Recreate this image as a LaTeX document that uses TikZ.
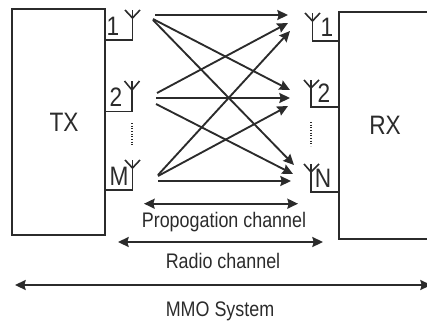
\documentclass[tikz,border=0pt]{standalone}
\usepackage{fontspec}
\setmainfont[FakeStretch=0.85]{Liberation Sans}
\usetikzlibrary{arrows.meta}
\definecolor{ink}{HTML}{2B2B2B}
\tikzstyle{unit} = [rectangle, draw=ink, line width=1.2pt, inner sep=0pt]
\tikzstyle{port} = [text=ink, font=\fontsize{20}{24}\selectfont, inner sep=0pt]
\tikzstyle{caption} = [text=ink, font=\fontsize{15.8}{18}\selectfont, inner sep=0pt]
\tikzstyle{feed} = [draw=ink, line width=1.2pt]
\tikzstyle{dots} = [draw=ink, line width=1.2pt, dash pattern=on 0.8pt off 1.2pt]
\tikzstyle{arrow} = [draw=ink, line width=1.4pt, -{Stealth[length=8pt,width=7.5pt,inset=1pt]}]
\tikzstyle{span} = [draw=ink, line width=1.4pt, {Stealth[length=8pt,width=7.5pt,inset=1pt]}-{Stealth[length=8pt,width=7.5pt,inset=1pt]}]

\begin{document}
\begin{tikzpicture}[x=0.75pt,y=-0.75pt]
\useasboundingbox (0,0) rectangle (427,325);
\node (tx) [unit, minimum width=70pt, minimum height=169.5pt] at (58.5,122) {};
\node (rx) [unit, minimum width=70.5pt, minimum height=170.25pt, anchor=north west] at (338,11) {};
\node (txlabel) [port] at (64,122.5) {TX};
\node (rxlabel) [port] at (385,125) {RX};

% transmit antennas
\coordinate (ta1) at (132.5,10);
\coordinate (ta2) at (132,81);
\coordinate (ta3) at (132.5,160);
\coordinate (tf1) at (105,40);
\coordinate (tf2) at (105,111.5);
\coordinate (tf3) at (105,190);
\draw [feed] (tf1) -| (ta1);
\draw [feed] (tf2) -| (ta2);
\draw [feed] (tf3) -| (ta3);
\draw [feed] (125,10) -- (132.5,18) -- (140,10);
\draw [feed] (124.5,81) -- (132,90) -- (139.5,81);
\draw [feed] (125,160) -- (132.5,168) -- (140,160);
\node (t1) [port] at (113,26) {1};
\node (t2) [port] at (116,97) {2};
\node (tm) [port] at (119,176) {M};

% receive antennas
\coordinate (ra1) at (312.5,13);
\coordinate (ra2) at (311,80);
\coordinate (ra3) at (311,164);
\coordinate (rf1) at (338,41);
\coordinate (rf2) at (338,107);
\coordinate (rf3) at (338,192);
\draw [feed] (rf1) -| (ra1);
\draw [feed] (rf2) -| (ra2);
\draw [feed] (rf3) -| (ra3);
\draw [feed] (305,13) -- (312.5,21) -- (320,13);
\draw [feed] (304,80) -- (311,88) -- (319,80);
\draw [feed] (304,164) -- (311,172) -- (319,164);
\node (r1) [port] at (327,27) {1};
\node (r2) [port] at (324,93) {2};
\node (rn) [port] at (323,178) {N};

\coordinate (td1) at (132,123);
\coordinate (td2) at (132,146);
\coordinate (rd1) at (311,122);
\coordinate (rd2) at (311,146);
\draw [dots] (td1) -- (td2);
\draw [dots] (rd1) -- (rd2);

% channel paths
\coordinate (s11) at (155,15);
\coordinate (s12) at (153,19);
\coordinate (s13) at (153,20);
\coordinate (s21) at (157,93);
\coordinate (s22) at (156,98);
\coordinate (s23) at (156,104);
\coordinate (s31) at (158,175);
\coordinate (s32) at (158,176);
\coordinate (s33) at (158,181);
\coordinate (e11) at (288,15);
\coordinate (e21) at (288,23);
\coordinate (e31) at (290,31);
\coordinate (e12) at (290,90);
\coordinate (e22) at (290,98);
\coordinate (e32) at (288,106);
\coordinate (e13) at (294,165);
\coordinate (e23) at (293,174);
\coordinate (e33) at (291,181);
\draw [arrow] (s11) -- (e11);
\draw [arrow] (s12) -- (e12);
\draw [arrow] (s13) -- (e13);
\draw [arrow] (s21) -- (e21);
\draw [arrow] (s22) -- (e22);
\draw [arrow] (s23) -- (e23);
\draw [arrow] (s31) -- (e31);
\draw [arrow] (s32) -- (e32);
\draw [arrow] (s33) -- (e33);

% extents
\coordinate (pl) at (144,203.7);
\coordinate (pr) at (298,203.7);
\coordinate (rl) at (118,242);
\coordinate (rr) at (323,242);
\coordinate (ml) at (15,285);
\coordinate (mr) at (431,285);
\draw [span] (pl) -- (pr);
\draw [span] (rl) -- (rr);
\draw [span] (ml) -- (mr);
\node (prop) [caption] at (224,222) {Propogation channel};
\node (radio) [caption] at (223,261) {Radio channel};
\node (mmo) [caption] at (220,311) {MMO System};
\end{tikzpicture}
\end{document}
